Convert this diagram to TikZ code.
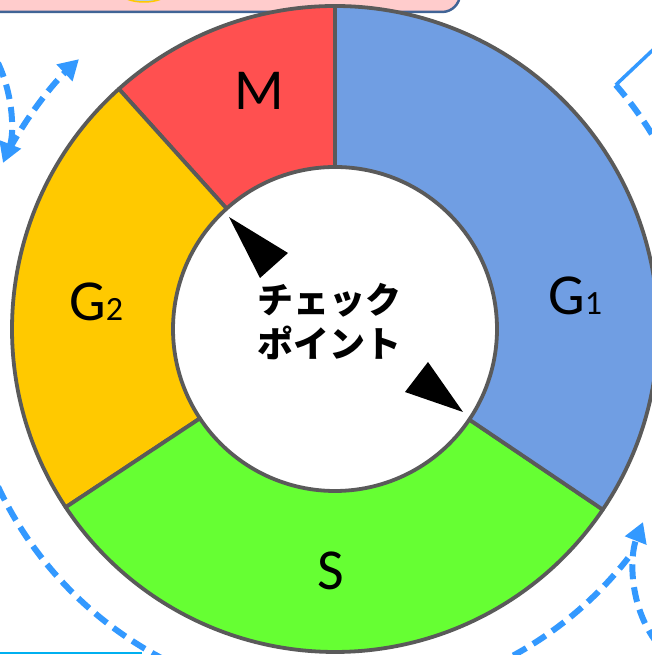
\documentclass[tikz,border=0pt]{standalone}
\usepackage{fontspec}
\newfontfamily\phasefont{Carlito}
\newfontfamily\jpfont{Noto Sans CJK JP}
\usetikzlibrary{arrows.meta}

\begin{document}
\begin{tikzpicture}[
    x=1pt, y=1pt,
    phase/.style={
        draw=ringgray,
        line width=3.8pt,
        line join=round
    },
    phasetext/.style={
        font=\phasefont\fontsize{58}{60}\selectfont,
        anchor=base,
        inner sep=0pt
    },
    flow/.style={
        draw=flowblue,
        line width=6pt,
        dash pattern=on 15pt off 8pt
    },
    tip/.style={
        -{Triangle[length=20pt,width=22pt]}
    },
    pointer/.style={
        fill=black
    }
]

\definecolor{ringgray}{RGB}{90,90,90}
\definecolor{phasered}{RGB}{255,80,80}
\definecolor{phaseblue}{RGB}{112,158,227}
\definecolor{phasegreen}{RGB}{102,255,51}
\definecolor{phaseyellow}{RGB}{255,201,0}
\definecolor{flowblue}{RGB}{51,153,255}
\definecolor{boxpink}{RGB}{255,204,204}
\definecolor{boxblue}{RGB}{65,100,150}
\definecolor{boxcyan}{RGB}{0,176,240}
\definecolor{iceblue}{RGB}{175,205,225}

\useasboundingbox (0,0) rectangle (652,655);
\clip (0,0) rectangle (652,655);

\coordinate (c) at (335,326);

% boxes cut by the frame
\draw[draw=boxblue, fill=boxpink, line width=2.5pt, rounded corners=18pt] (-30,643) rectangle (460,700);
\draw[draw=phaseyellow, fill=iceblue, line width=1.5pt] (144,663) ellipse[x radius=24, y radius=10];
\draw[draw=boxcyan, line width=2.5pt] (-5,2) -- (142,2);

% outer flow
\draw[flow, tip] ([shift={(151:372)}]c) arc[start angle=151, end angle=133.5, radius=372];
\draw[flow] ([shift={(198:372)}]c) arc[start angle=198, end angle=252, radius=372];
\draw[flow] ([shift={(288:372)}]c) arc[start angle=288, end angle=322, radius=372];
\draw[flow] ([shift={(41:372)}]c) arc[start angle=41, end angle=26, radius=372];
\draw[draw=flowblue, line width=3.5pt] ([shift={(41:372)}]c) -- (656,608);
\draw[flow, tip] (-2,592) .. controls (14,558) and (14,520) .. (3,492);
\draw[flow, tip] (657,12) .. controls (628,50) and (630,100) .. (643,133);

% cycle ring
\draw[phase, fill=phasered] ([shift={(90:323)}]c) arc[start angle=90, end angle=132, radius=323]
    -- ([shift={(132:162)}]c) arc[start angle=132, end angle=90, radius=162] -- cycle;
\draw[phase, fill=phaseyellow] ([shift={(132:323)}]c) arc[start angle=132, end angle=213.5, radius=323]
    -- ([shift={(213.5:162)}]c) arc[start angle=213.5, end angle=132, radius=162] -- cycle;
\draw[phase, fill=phasegreen] ([shift={(213.5:323)}]c) arc[start angle=213.5, end angle=326, radius=323]
    -- ([shift={(326:162)}]c) arc[start angle=326, end angle=213.5, radius=162] -- cycle;
\draw[phase, fill=phaseblue] ([shift={(326:323)}]c) arc[start angle=326, end angle=450, radius=323]
    -- ([shift={(450:162)}]c) arc[start angle=450, end angle=326, radius=162] -- cycle;

\node[phasetext] (m) at (259,545) {M};
\node[phasetext, anchor=base west] (g2) at (69,334) {G{\fontsize{34}{34}\selectfont 2}};
\node[phasetext] (s) at (331,65) {S};
\node[phasetext, anchor=base west] (g1) at (548,340) {G{\fontsize{34}{34}\selectfont 1}};

\node[font=\jpfont\bfseries\fontsize{36}{44}\selectfont, align=center] (check) at (329,333) {チェック\\ポイント};

\fill[pointer] (229,438) -- (288,402) -- (260,377) -- cycle;
\fill[pointer] (405,263) -- (428,293) -- (463,243) -- cycle;

\end{tikzpicture}
\end{document}
